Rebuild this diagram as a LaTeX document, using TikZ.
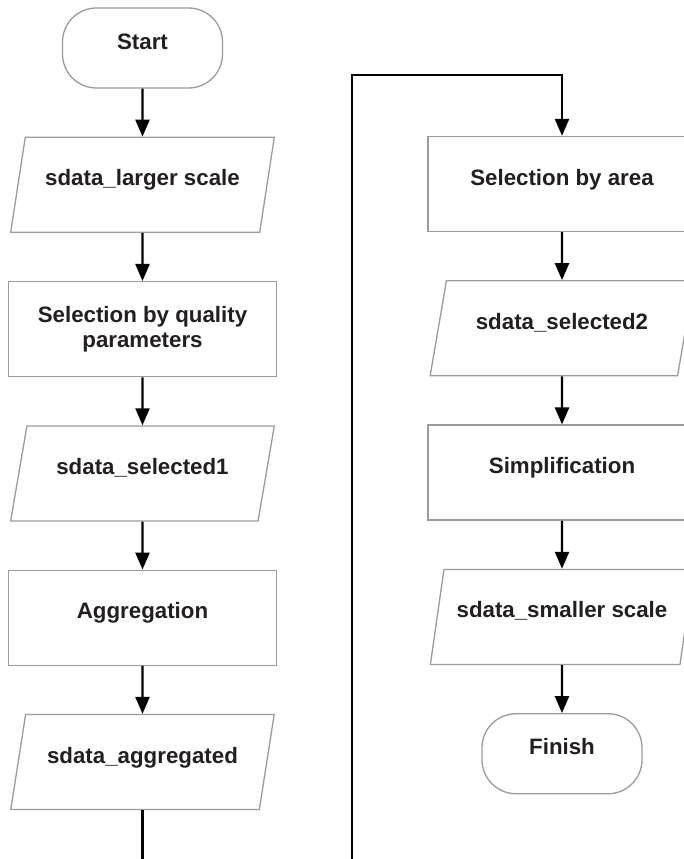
\documentclass[tikz,border=0pt]{standalone}
\usepackage{fontspec}
\setmainfont{Liberation Sans}
\usetikzlibrary{arrows.meta,shapes.geometric,positioning}
\definecolor{borde}{RGB}{155,155,155}
\definecolor{letra}{RGB}{35,31,32}
\tikzset{
    texto/.style={font=\fontsize{22.3}{25}\selectfont\bfseries,text=letra},
    alzado/.style={text height=16pt,text depth=14pt},
    flecha/.style={draw,->,>={Triangle[length=17pt,width=14pt]},line width=2.3pt,black},
    bloque/.style={rectangle,draw=borde,line width=1.3pt,texto,minimum width=268pt,minimum height=95pt,inner sep=0pt},
    datos/.style={trapezium,trapezium left angle=68,trapezium right angle=112,trapezium stretches=true,
                  draw=borde,line width=1.3pt,texto,minimum width=264pt,minimum height=95pt,inner sep=0pt},
    extremo/.style={rectangle,rounded corners=34pt,draw=borde,line width=1.3pt,texto,minimum width=160pt,minimum height=80pt},
}
\begin{document}
\begin{tikzpicture}[x=1pt,y=1pt,node distance=48pt]
\clip (0,0) rectangle (684,-859);
% columna izquierda
\node[extremo,alzado] (inicio) at (142.5,-48) {Start};
\node[datos,alzado,below=of inicio]    (escala1)  {sdata\_larger scale};
\node[bloque,align=center,below=of escala1] (calidad) {Selection by quality\\parameters};
\node[datos,alzado,below=of calidad]   (selec1)   {sdata\_selected1};
\node[bloque,alzado,below=of selec1]   (agreg)    {Aggregation};
\node[datos,alzado,below=of agreg]     (agregado) {sdata\_aggregated};

% columna derecha
\node[bloque,alzado] (area) at (562,-184) {Selection by area};
\node[datos,alzado,below=of area]      (selec2)   {sdata\_selected2};
\node[bloque,alzado,below=of selec2]   (simpl)    {Simplification};
\node[datos,alzado,below=of simpl]     (escala2)  {sdata\_smaller scale};
\node[extremo,alzado,below=of escala2] (fin)      {Finish};

\coordinate (abajo)  at (352,-900);
\coordinate (arriba) at (352,-75);

\draw[flecha] (inicio)  -- (escala1);
\draw[flecha] (escala1) -- (calidad);
\draw[flecha] (calidad) -- (selec1);
\draw[flecha] (selec1)  -- (agreg);
\draw[flecha] (agreg)   -- (agregado);
\draw[flecha] (agregado.south) |- (abajo) -- (arriba) -| (area.north);
\draw[flecha] (area)    -- (selec2);
\draw[flecha] (selec2)  -- (simpl);
\draw[flecha] (simpl)   -- (escala2);
\draw[flecha] (escala2) -- (fin);
\end{tikzpicture}
\end{document}
